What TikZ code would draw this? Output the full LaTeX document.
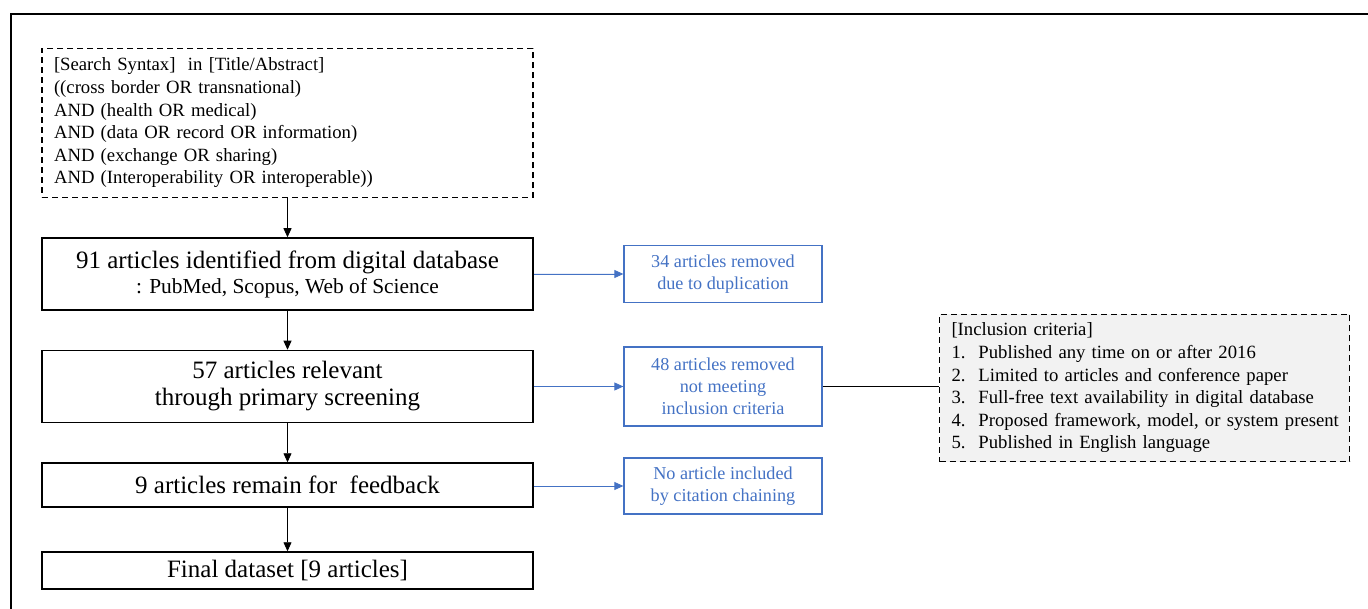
\documentclass[tikz,border=0pt]{standalone}
\usepackage{fontspec}
\setmainfont{Liberation Serif}
\usetikzlibrary{arrows.meta}
\definecolor{oblue}{HTML}{4472C4}
\definecolor{lgray}{HTML}{F2F2F2}
\newcommand{\inum}[2]{\mbox{\makebox[27pt][l]{#1}#2}}
\begin{document}
\begin{tikzpicture}[x=1pt,y=-1pt,
  mainbox/.style={draw=black, line width=1.5pt, minimum width=491pt, align=center, inner sep=0pt, font=\fontsize{25}{27}\selectfont},
  bluebox/.style={draw=oblue, line width=1.3pt, text=oblue, minimum width=198pt, align=center, inner sep=0pt, font=\fontsize{18.2}{22.2}\selectfont},
  dashbox/.style={draw=black, line width=1.3pt, dashed, dash pattern=on 6pt off 4pt, align=left, inner xsep=12pt, inner ysep=0pt},
  flow/.style={-{Triangle[length=9pt,width=8pt]}, line width=0.8pt},
  bflow/.style={-{Triangle[length=9pt,width=8pt]}, line width=0.8pt, draw=oblue, fill=oblue}
]
\useasboundingbox (0,0) rectangle (1368,609);
\draw[line width=2pt] (1368,14) -- (11,14) -- (11,609);

\node[dashbox, text width=467pt, minimum width=491pt, minimum height=149pt, font=\fontsize{18.7}{22.6}\selectfont] (search) at (287.5,123)
 {[Search Syntax]~ in [Title/Abstract]\\
  ((cross border OR transnational)\\
  AND (health OR medical)\\
  AND (data OR record OR information)\\
  AND (exchange OR sharing)\\
  AND (Interoperability OR interoperable))};

\node[mainbox, minimum height=72pt] (b1) at (287.5,274)
 {91 articles identified from digital database\\[-2pt]
  {\fontsize{21.4}{24}\selectfont : PubMed, Scopus, Web of Science}};
\node[mainbox, minimum height=72pt] (b2) at (287.5,386.5)
 {57 articles relevant\\ through primary screening};
\node[mainbox, minimum height=44pt] (b3) at (287.5,485)
 {9 articles remain for~ feedback};
\node[mainbox, minimum height=37pt] (b4) at (287.5,570.5)
 {Final dataset [9 articles]};

\node[bluebox, minimum height=57pt] (r1) at (723,274)
 {34 articles removed\\ due to duplication};
\node[bluebox, minimum height=79pt] (r2) at (723,386.5)
 {48 articles removed\\ not meeting\\ inclusion criteria};
\node[bluebox, minimum height=56pt] (r3) at (723,486)
 {No article included\\ by citation chaining};

\node[dashbox, fill=lgray, text width=386pt, minimum width=408pt, minimum height=147pt, font=\fontsize{18.7}{22.6}\selectfont] (inc) at (1144.5,388)
 {[Inclusion criteria]\\
  \inum{1.}{Published any time on or after 2016}\\
  \inum{2.}{Limited to articles and conference paper}\\
  \inum{3.}{Full-free text availability in digital database}\\
  \inum{4.}{Proposed framework, model, or system present}\\
  \inum{5.}{Published in English language}};

\draw[flow] (search.south) -- (b1.north);
\draw[flow] (b1.south) -- (b2.north);
\draw[flow] (b2.south) -- (b3.north);
\draw[flow] (b3.south) -- (b4.north);

\draw[bflow] (b1.east |- r1.west) -- (r1.west);
\draw[bflow] (b2.east |- r2.west) -- (r2.west);
\draw[bflow] (b3.east |- r3.west) -- (r3.west);
\draw[line width=0.9pt] (r2.east) -- (r2.east -| inc.west);
\end{tikzpicture}
\end{document}
